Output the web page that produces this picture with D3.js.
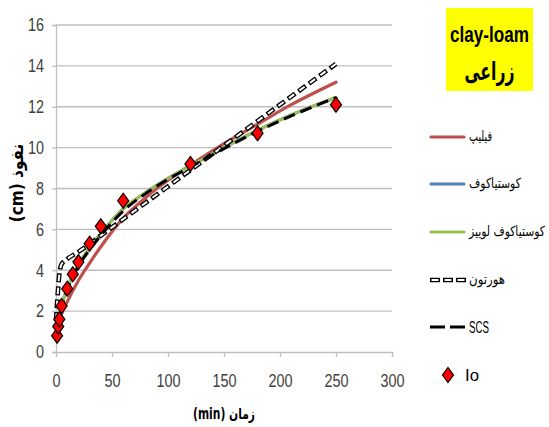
<!DOCTYPE html>
<html><head><meta charset="utf-8">
<script src="https://cdn.jsdelivr.net/npm/d3@7"></script>
<style>body{margin:0;background:#fff}svg{display:block}</style>
</head><body>
<svg id="c" width="549" height="427"></svg>
<script>
// ---- data ----
const xTicks = [0,50,100,150,200,250,300];
const yTicks = [0,2,4,6,8,10,12,14,16];
const ioTime  = [1,2,3,5,10,15,20,30,40,60,120,180,250];
const ioDepth = [0.8,1.25,1.6,2.25,3.1,3.8,4.4,5.3,6.15,7.4,9.2,10.7,12.1];
const modelTime = [1,3,5,10,20,30,40,60,80,100,120,150,180,210,250];
const philip      = [0.85,1.45,1.85,2.45,3.5,4.35,5.15,6.55,7.55,8.4,9.15,10.2,11.15,12.1,13.2];
const kostiakov   = [1.0,1.75,2.25,3.1,4.25,5.1,5.8,7.0,7.8,8.5,9.1,10.0,10.85,11.6,12.45];
const kostLewis   = [1.0,1.75,2.25,3.1,4.25,5.1,5.8,7.0,7.8,8.5,9.1,10.0,10.85,11.6,12.45];
const scs         = [1.1,1.7,2.2,3.05,4.2,5.0,5.7,6.9,7.75,8.45,9.05,9.95,10.8,11.55,12.45];
const hortonTime  = [0,1,2,3,5,10,20,50,100,150,200,250];
const horton      = [1.5,2.4,3.2,3.8,4.3,4.55,4.9,6.1,8.1,10.1,12.1,14.1];
const legendNames = ["فیلیپ","کوستیاکوف","کوستیاکوف لوییز","هورتون","SCS","Io"];
const titleLines = ["clay-loam","زراعی"];
const xTitle = "زمان (min)";
const yTitle = "نفوذ (cm)";

const svg = d3.select("#c");
const x = d3.scaleLinear().domain([0,300]).range([56,392]);
const y = d3.scaleLinear().domain([0,16]).range([352,25]);
const numFont = "'Liberation Sans','Arial',sans-serif";
const arFont = "'DejaVu Sans Condensed','DejaVu Sans',sans-serif";

// squeeze a text horizontally to a target width, anchored at (ax, ay)
function fit(sel, target, ax, ay, anchor, rot){
  sel.attr("x",0).attr("y",0).attr("text-anchor",anchor);
  const w = sel.node().getComputedTextLength();
  const s = Math.min(1, target / w);
  sel.attr("transform",`translate(${ax},${ay})${rot?` rotate(${rot})`:""} scale(${s},1)`);
  return sel;
}

// grid
svg.append("g").selectAll("line").data(yTicks.filter(d=>d>0)).join("line")
  .attr("x1",x(0)).attr("x2",x(300)).attr("y1",d=>y(d)).attr("y2",d=>y(d))
  .attr("stroke","#BFBFBF").attr("stroke-width",1.3);

// axes
const yAxis = svg.append("g").attr("transform",`translate(${x(0)},0)`)
  .call(d3.axisLeft(y).tickValues(yTicks).tickSize(4).tickPadding(8));
const xAxis = svg.append("g").attr("transform",`translate(0,${y(0)})`)
  .call(d3.axisBottom(x).tickValues(xTicks).tickSize(5).tickPadding(17));
[yAxis,xAxis].forEach(g=>{
  g.select(".domain").attr("stroke","#BFBFBF").attr("stroke-width",1.3);
  g.selectAll(".tick line").attr("stroke","#BFBFBF").attr("stroke-width",1.3);
  g.selectAll(".tick text").attr("fill","#404040").style("font-family",numFont).style("font-size","18px");
});
yAxis.selectAll(".tick text").attr("x",0).attr("transform","translate(-12,0) scale(0.8,1)");
xAxis.selectAll(".tick text").attr("transform","scale(0.8,1)");

// lines
const line = (xs)=> d3.line().x((d,i)=>x(xs[i])).y(d=>y(d)).curve(d3.curveMonotoneX);
const plot = svg.append("g");
plot.append("path").attr("d",line(modelTime)(philip)).attr("fill","none").attr("stroke","#C0504D").attr("stroke-width",3.2).attr("stroke-linecap","round");
plot.append("path").attr("d",line(modelTime)(kostiakov)).attr("fill","none").attr("stroke","#4F81BD").attr("stroke-width",3).attr("stroke-linecap","round");
plot.append("path").attr("d",line(modelTime)(kostLewis)).attr("fill","none").attr("stroke","#9BBB59").attr("stroke-width",3.2).attr("stroke-linecap","round");
// horton: outlined dashes
const hd = line(hortonTime)(horton);
plot.append("path").attr("d",hd).attr("fill","none").attr("stroke","#000").attr("stroke-width",4.6).attr("stroke-dasharray","9 4").attr("stroke-linecap","butt");
plot.append("path").attr("d",hd).attr("fill","none").attr("stroke","#fff").attr("stroke-width",2).attr("stroke-dasharray","6.4 6.6").attr("stroke-dashoffset",-1.3).attr("stroke-linecap","butt");
plot.append("path").attr("d",line(modelTime)(scs)).attr("fill","none").attr("stroke","#000").attr("stroke-width",3).attr("stroke-dasharray","12 6");

// markers
const diamond = (cx,cy,w,h)=>`M${cx},${cy-h/2}L${cx+w/2},${cy}L${cx},${cy+h/2}L${cx-w/2},${cy}Z`;
plot.selectAll(".io").data(ioDepth).join("path").attr("class","io")
  .attr("d",(d,i)=>diamond(x(ioTime[i]),y(d),11,15))
  .attr("fill","#FF0000").attr("stroke","#000").attr("stroke-width",1.2);

// axis titles
fit(svg.append("text").attr("direction","rtl")
  .style("font-family",arFont).style("font-weight","bold").style("font-size","15px").attr("fill","#000").text(xTitle),
  62, 224, 419, "middle");
fit(svg.append("text").attr("direction","rtl")
  .style("font-family",arFont).style("font-weight","bold").style("font-size","17px").attr("fill","#000").text(yTitle),
  104, 23, 183, "middle", -90);

// title box
svg.append("rect").attr("x",446).attr("y",8).attr("width",87).attr("height",83).attr("fill","#FFFF00");
fit(svg.append("text").style("font-family",numFont).style("font-weight","bold").style("font-size","22px").attr("fill","#000").text(titleLines[0]),
  79, 489.5, 42, "middle");
fit(svg.append("text").attr("direction","rtl").style("font-family","'DejaVu Sans',sans-serif").style("font-weight","bold").style("font-size","25px").attr("fill","#000").text(titleLines[1]),
  50, 489.5, 80, "middle");

// legend
const ly = [137,184,232,280,327,375];
const lw = [23,52,76,36,20,14];
const lg = svg.append("g");
lg.append("line").attr("x1",431).attr("x2",464).attr("y1",ly[0]).attr("y2",ly[0]).attr("stroke","#C0504D").attr("stroke-width",3.2).attr("stroke-linecap","round");
lg.append("line").attr("x1",431).attr("x2",464).attr("y1",ly[1]).attr("y2",ly[1]).attr("stroke","#4F81BD").attr("stroke-width",3.2).attr("stroke-linecap","round");
lg.append("line").attr("x1",431).attr("x2",464).attr("y1",ly[2]).attr("y2",ly[2]).attr("stroke","#9BBB59").attr("stroke-width",3.2).attr("stroke-linecap","round");
lg.append("line").attr("x1",430).attr("x2",466).attr("y1",ly[3]).attr("y2",ly[3]).attr("stroke","#000").attr("stroke-width",4.6).attr("stroke-dasharray","10 3");
lg.append("line").attr("x1",430).attr("x2",466).attr("y1",ly[3]).attr("y2",ly[3]).attr("stroke","#fff").attr("stroke-width",2).attr("stroke-dasharray","7 6").attr("stroke-dashoffset",-1.5);
lg.append("line").attr("x1",430).attr("x2",466).attr("y1",ly[4]).attr("y2",ly[4]).attr("stroke","#000").attr("stroke-width",3).attr("stroke-dasharray","15 5");
lg.append("path").attr("d",diamond(448,ly[5],11,15)).attr("fill","#FF0000").attr("stroke","#000").attr("stroke-width",1.2);
legendNames.forEach((name,i)=>{
  const t = lg.append("text").style("font-family", i>=4 ? numFont : arFont)
    .style("font-size", i>=4 ? "17px" : "14px").attr("fill","#000").text(name);
  fit(t, lw[i], i===5 ? 465 : 469, ly[i] + (i>=4 ? 6 : 4), "start");
});
</script>
</body></html>
